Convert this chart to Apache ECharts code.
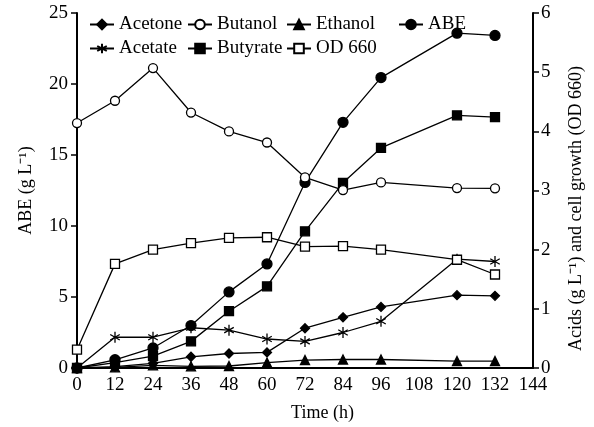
<!DOCTYPE html>
<html>
<head>
<meta charset="utf-8">
<style>
  html, body { margin: 0; padding: 0; background: #fff; }
  #chart { width: 594px; height: 427px; }
</style>
<script src="https://cdn.jsdelivr.net/npm/echarts@6/dist/echarts.min.js"></script>
</head>
<body>
<div id="chart"></div>
<script>
// sampling times (h)
var hours = [0, 12, 24, 36, 48, 60, 72, 84, 96, 120, 132]
var xTicks = [0, 12, 24, 36, 48, 60, 72, 84, 96, 108, 120, 132, 144]

// solvents, g/L (left axis)
var acetone = [0, 0.1, 0.33, 0.79, 1.02, 1.1, 2.8, 3.57, 4.3, 5.13, 5.08]
var butanol = [17.25, 18.82, 21.12, 17.99, 16.66, 15.88, 13.42, 12.53, 13.07, 12.67, 12.65]
var ethanol = [0, 0.05, 0.19, 0.12, 0.14, 0.38, 0.56, 0.6, 0.6, 0.49, 0.49]
var abe = [0, 0.58, 1.41, 2.99, 5.36, 7.33, 13.07, 17.3, 20.45, 23.58, 23.42]

// acids g/L and OD 660 (right axis)
var acetate = [0, 0.52, 0.52, 0.68, 0.64, 0.49, 0.45, 0.6, 0.79, 1.84, 1.8]
var butyrate = [0, 0.09, 0.2, 0.45, 0.96, 1.38, 2.31, 3.13, 3.72, 4.27, 4.24]
var od660 = [0.31, 1.76, 2.0, 2.11, 2.2, 2.21, 2.05, 2.06, 2.0, 1.83, 1.58]

var font = 'Liberation Serif'
var asterisk = 'path://M5,0L5,10M0.67,2.5L9.33,7.5M0.67,7.5L9.33,2.5'

function pairs(vals) {
  return hours.map(function (h, i) { return [h, vals[i]] })
}

function makeSeries(name, vals, axis, symbol, size, filled) {
  return {
    name: name,
    type: 'line',
    yAxisIndex: axis,
    data: pairs(vals),
    symbol: symbol,
    symbolSize: size,
    symbolKeepAspect: true,
    showAllSymbol: true,
    z: filled ? 3 : 4,
    lineStyle: { color: '#000', width: 1.3 },
    itemStyle: {
      color: filled ? '#000' : '#fff',
      borderColor: '#000',
      borderWidth: 1.3,
      opacity: 1
    },
    emphasis: { disabled: true },
    animation: false
  }
}

function legendCol(left, names) {
  return {
    orient: 'vertical',
    left: left,
    top: 10,
    itemWidth: 24,
    itemHeight: 12,
    itemGap: 5,
    selectedMode: false,
    data: names,
    textStyle: { fontFamily: font, fontSize: 19, color: '#000', lineHeight: 19 }
  }
}

var chart = echarts.init(document.getElementById('chart'), null, { renderer: 'canvas' })

chart.setOption({
  backgroundColor: '#fff',
  textStyle: { fontFamily: font, color: '#000' },
  grid: { left: 77, right: 61, top: 13, bottom: 55 },
  legend: [
    legendCol(84, ['Acetone', 'Acetate']),
    legendCol(182, ['Butanol', 'Butyrate']),
    legendCol(281, ['Ethanol', 'OD 660']),
    legendCol(393, ['ABE'])
  ],
  xAxis: {
    type: 'value',
    min: 0,
    max: 144,
    interval: 12,
    name: 'Time (h)',
    nameLocation: 'middle',
    nameGap: 36,
    nameTextStyle: { fontFamily: font, fontSize: 18, color: '#000', padding: [0, 0, 0, 35] },
    axisLine: { lineStyle: { color: '#000', width: 2 } },
    axisTick: { show: false },
    splitLine: { show: false },
    axisLabel: {
      margin: 8,
      fontFamily: font,
      fontSize: 19,
      color: '#000',
      formatter: function (v) { return xTicks.indexOf(v) >= 0 ? String(v) : '' }
    }
  },
  yAxis: [{
    type: 'value',
    min: 0,
    max: 25,
    interval: 5,
    name: 'ABE (g L\u207B\u00B9)',
    nameLocation: 'middle',
    nameRotate: 90,
    nameGap: 42,
    nameTextStyle: { fontFamily: font, fontSize: 18, color: '#000' },
    axisLine: { show: true, lineStyle: { color: '#000', width: 2 } },
    axisTick: { show: true, length: 6, lineStyle: { color: '#000', width: 1.5 } },
    splitLine: { show: false },
    axisLabel: { margin: 9, fontFamily: font, fontSize: 19, color: '#000' }
  }, {
    type: 'value',
    position: 'right',
    min: 0,
    max: 6,
    interval: 1,
    name: 'Acids (g L\u207B\u00B9) and cell growth (OD 660)',
    nameLocation: 'middle',
    nameRotate: 90,
    nameGap: 34,
    nameTextStyle: { fontFamily: font, fontSize: 18, color: '#000', padding: [0, 36, 0, 0] },
    axisLine: { show: true, lineStyle: { color: '#000', width: 2 } },
    axisTick: { show: true, length: 6, lineStyle: { color: '#000', width: 1.5 } },
    splitLine: { show: false },
    axisLabel: { margin: 8, fontFamily: font, fontSize: 19, color: '#000' }
  }],
  series: [
    makeSeries('Acetone', acetone, 0, 'diamond', 9, true),
    makeSeries('Butanol', butanol, 0, 'circle', 9, false),
    makeSeries('Ethanol', ethanol, 0, 'triangle', 9, true),
    makeSeries('ABE', abe, 0, 'circle', 10, true),
    makeSeries('Acetate', acetate, 1, asterisk, 11, true),
    makeSeries('Butyrate', butyrate, 1, 'rect', 9, true),
    makeSeries('OD 660', od660, 1, 'rect', 9, false)
  ]
})
</script>
</body>
</html>
